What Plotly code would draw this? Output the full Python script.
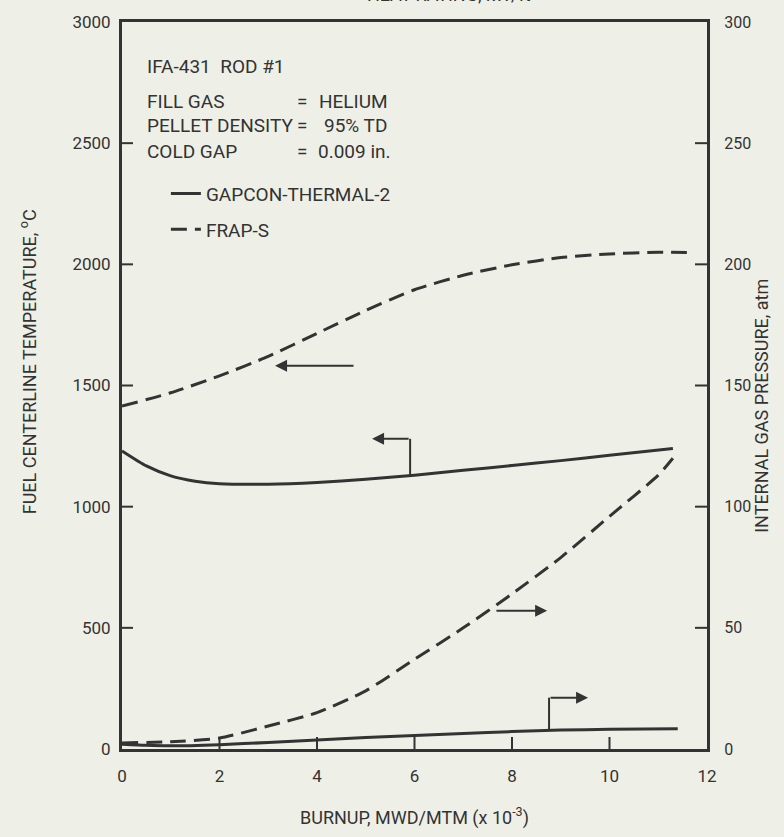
import plotly.graph_objects as go

# ---------------- data ----------------
burnup_ticks = [0, 2, 4, 6, 8, 10, 12]
temp_ticks = [0, 500, 1000, 1500, 2000, 2500, 3000]
press_ticks = [0, 50, 100, 150, 200, 250, 300]

# Fuel centerline temperature (deg C) vs burnup (MWD/MTM x 1e-3)
frap_T_x = [0, 1, 2, 3, 4, 5, 6, 7, 8, 9, 10, 11, 11.7]
frap_T = [1415, 1470, 1540, 1620, 1715, 1810, 1895, 1955, 1998, 2028, 2043, 2050, 2048]

gap_T_x = [0, 0.5, 1, 1.5, 2, 3, 4, 5, 6, 7, 8, 9, 10, 11.3]
gap_T = [1230, 1168, 1127, 1105, 1095, 1093, 1100, 1113, 1130, 1150, 1170, 1190, 1212, 1240]

# Internal gas pressure (atm) vs burnup
frap_P_x = [0, 1, 2, 3, 4, 5, 6, 7, 8, 9, 10, 11, 11.3]
frap_P = [2.5, 3, 4.5, 9.5, 15, 24, 37, 50, 64, 79, 96, 113, 120]

gap_P_x = [0, 0.5, 1, 2, 3, 4, 5, 6, 7, 8, 9, 10, 11.4]
gap_P = [2, 1.5, 1.3, 1.8, 2.7, 3.7, 4.7, 5.6, 6.4, 7.2, 7.8, 8.1, 8.4]

# ---------------- style ----------------
FONT = "Roboto, Liberation Sans, sans-serif"
INK = "#333333"
BG = "#eef0e7"
CLEAR = "rgba(0,0,0,0)"
DASH = "16px,8px"
X_RANGE = [0, 12]
T_RANGE = [0, 3000]
P_RANGE = [0, 300]

fig = go.Figure()

fig.add_trace(go.Scatter(x=gap_T_x, y=gap_T, mode="lines", name="GAPCON-THERMAL-2",
                         line=dict(color=INK, width=3, shape="spline", smoothing=0.6),
                         legendgroup="g", yaxis="y"))
fig.add_trace(go.Scatter(x=frap_T_x, y=frap_T, mode="lines", name="FRAP-S",
                         line=dict(color=INK, width=3, dash=DASH, shape="spline", smoothing=0.6),
                         legendgroup="f", yaxis="y"))
fig.add_trace(go.Scatter(x=gap_P_x, y=gap_P, mode="lines", name="GAPCON-THERMAL-2",
                         line=dict(color=INK, width=3, shape="spline", smoothing=0.6),
                         legendgroup="g", showlegend=False, yaxis="y2"))
fig.add_trace(go.Scatter(x=frap_P_x, y=frap_P, mode="lines", name="FRAP-S",
                         line=dict(color=INK, width=3, dash=DASH, shape="spline", smoothing=0.6),
                         legendgroup="f", showlegend=False, yaxis="y2"))

tickfont = dict(family=FONT, size=17, color=INK)

fig.update_layout(
    width=784, height=837,
    margin=dict(l=122, r=77, t=16, b=84),
    paper_bgcolor=BG, plot_bgcolor=BG,
    font=dict(family=FONT, size=18, color=INK),
    showlegend=True,
    legend=dict(x=0.075, y=0.79, xanchor="left", yanchor="top",
                bgcolor=CLEAR, font=dict(family=FONT, size=19, color=INK),
                tracegroupgap=8, itemwidth=30),
    # transparent outside ticks only set the label distance; tick marks are drawn below
    xaxis=dict(range=X_RANGE, tickvals=burnup_ticks, ticks="outside", ticklen=10,
               tickcolor=CLEAR, showline=True, linecolor=INK, linewidth=3,
               mirror=True, showgrid=False, zeroline=False, tickfont=tickfont,
               title=dict(text="BURNUP, MWD/MTM (x 10<sup>-3</sup>)",
                          font=dict(family=FONT, size=18, color=INK), standoff=26)),
    yaxis=dict(range=T_RANGE, tickvals=temp_ticks, ticks="outside", ticklen=5,
               tickcolor=CLEAR, showline=True, linecolor=INK, linewidth=3,
               mirror=True, showgrid=False, zeroline=False, tickfont=tickfont),
    yaxis2=dict(range=P_RANGE, tickvals=press_ticks, ticks="outside", ticklen=13,
                tickcolor=CLEAR, overlaying="y", side="right",
                showline=False, showgrid=False, zeroline=False,
                tickfont=dict(family=FONT, size=16, color=INK)),
)

# inside tick marks, placed at the tick values of each axis
tick_line = dict(color=INK, width=2)
plot_w = 784 - 122 - 77
for v in burnup_ticks[1:-1]:
    fig.add_shape(type="line", xref="x", yref="paper", ysizemode="pixel", yanchor=0,
                  x0=v, x1=v, y0=0, y1=12, line=tick_line, layer="above")
for v in temp_ticks[1:-1]:
    frac = (v - T_RANGE[0]) / (T_RANGE[1] - T_RANGE[0])
    fig.add_shape(type="line", xref="paper", yref="paper",
                  x0=0, x1=11 / plot_w, y0=frac, y1=frac, line=tick_line, layer="above")
for v in press_ticks[1:-1]:
    fig.add_shape(type="line", xref="paper", yref="y2", xsizemode="pixel", xanchor=1,
                  x0=0, x1=-12, y0=v, y1=v, line=tick_line, layer="above")

# axis titles placed as rotated annotations
fig.add_annotation(text="FUEL CENTERLINE TEMPERATURE, <sup>o</sup>C", textangle=-90,
                   xref="paper", yref="paper", x=-0.161, y=0.533, xanchor="center",
                   yanchor="middle", showarrow=False,
                   font=dict(family=FONT, size=18, color=INK))
fig.add_annotation(text="INTERNAL GAS PRESSURE, atm", textangle=-90,
                   xref="paper", yref="paper", x=1.094, y=0.472, xanchor="center",
                   yanchor="middle", showarrow=False,
                   font=dict(family=FONT, size=18, color=INK))
# cut-off heading at the top of the scan
fig.add_annotation(text="HEAT RATING, kW/ft", xref="paper", yref="paper",
                   x=0.559, y=1, yanchor="bottom", yshift=15, showarrow=False,
                   font=dict(family=FONT, size=18, color=INK))

# information block
info_rows = [("FILL GAS", "=", "HELIUM", 0.909, 0.333),
             ("PELLET DENSITY", "=", "95% TD", 0.876, 0.342),
             ("COLD GAP", "=", "0.009 in.", 0.841, 0.332)]
fig.add_annotation(text="IFA-431  ROD #1", xref="paper", yref="paper", x=0.04, y=0.958,
                   xanchor="left", showarrow=False, font=dict(family=FONT, size=19, color=INK))
for label, eq, val, yy, vx in info_rows:
    fig.add_annotation(text=label, xref="paper", yref="paper", x=0.04, y=yy,
                       xanchor="left", showarrow=False, font=dict(family=FONT, size=19, color=INK))
    fig.add_annotation(text=eq, xref="paper", yref="paper", x=0.296, y=yy,
                       xanchor="left", showarrow=False, font=dict(family=FONT, size=19, color=INK))
    fig.add_annotation(text=val, xref="paper", yref="paper", x=vx, y=yy,
                       xanchor="left", showarrow=False, font=dict(family=FONT, size=19, color=INK))

# pointer arrows identifying which axis each curve uses
arrow_style = dict(showarrow=True, arrowhead=2, arrowsize=1.2, arrowwidth=2,
                   arrowcolor=INK, text="")
# FRAP-S temperature -> left axis
fig.add_annotation(x=3.14, y=1582, ax=4.78, ay=1582, xref="x", yref="y",
                   axref="x", ayref="y", **arrow_style)
# GAPCON temperature -> left axis (elbow)
fig.add_shape(type="line", x0=5.91, x1=5.91, y0=1129, y1=1280, xref="x", yref="y",
              line=dict(color=INK, width=2))
fig.add_annotation(x=5.13, y=1280, ax=5.91, ay=1280, xref="x", yref="y",
                   axref="x", ayref="y", **arrow_style)
# FRAP-S pressure -> right axis
fig.add_annotation(x=8.72, y=57, ax=7.65, ay=57, xref="x", yref="y2",
                   axref="x", ayref="y2", **arrow_style)
# GAPCON pressure -> right axis (elbow)
fig.add_shape(type="line", x0=8.76, x1=8.76, y0=8, y1=21.2, xref="x", yref="y2",
              line=dict(color=INK, width=2))
fig.add_annotation(x=9.56, y=21.2, ax=8.76, ay=21.2, xref="x", yref="y2",
                   axref="x", ayref="y2", **arrow_style)

fig.write_html("out.html")
